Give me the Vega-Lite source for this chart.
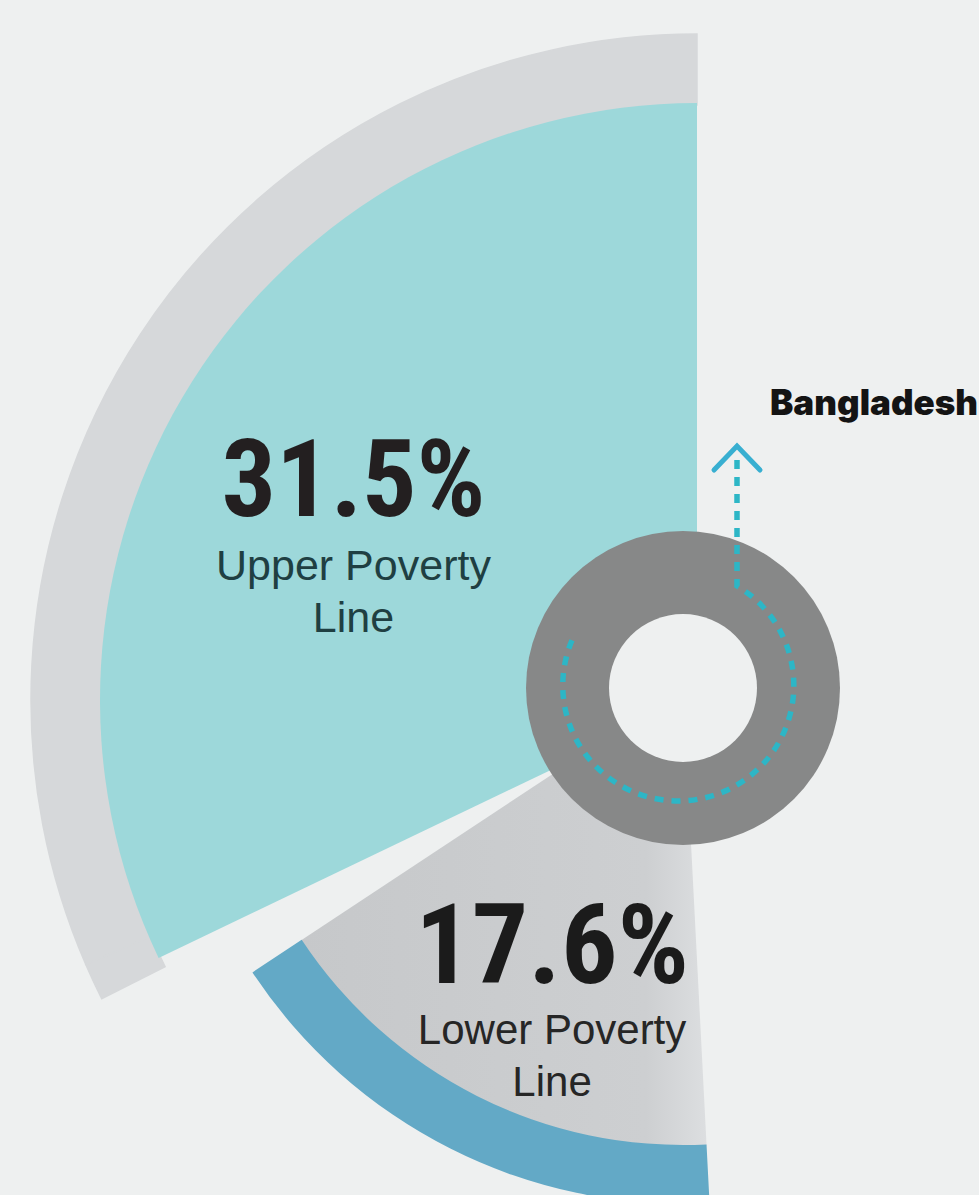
{
  "$schema": "https://vega.github.io/schema/vega-lite/v6.json",
  "width": 564,
  "height": 990,
  "autosize": "none",
  "padding": {"left": 415, "top": 205, "right": 0, "bottom": 0},
  "background": "#eef0f0",
  "config": {"view": {"stroke": null}},
  "datasets": {
    "poverty": [
      {"segment": "start", "value": 0.5, "idx": 1, "label": ""},
      {"segment": "Lower Poverty Line", "value": 0.176, "idx": 2, "label": "Lower Poverty\nLine"},
      {"segment": "gap", "value": 0.009, "idx": 3, "label": ""},
      {"segment": "Upper Poverty Line", "value": 0.315, "idx": 4, "label": "Upper Poverty\nLine"}
    ],
    "country": [{"name": "Bangladesh"}]
  },
  "data": {"name": "poverty"},
  "resolve": {"scale": {"theta": "independent"}},
  "layer": [
    {
      "mark": {"type": "arc", "outerRadius": 666, "innerRadius": 595, "strokeWidth": 1.5},
      "encoding": {
        "theta": {"field": "value", "type": "quantitative", "stack": true, "scale": {"domain": [0, 1]}},
        "order": {"field": "idx", "type": "quantitative"},
        "detail": {"field": "segment", "type": "nominal"},
        "fill": {"condition": {"test": "datum.segment === 'Upper Poverty Line' || datum.segment === 'gap'", "value": "#d6d8da"}, "value": "transparent"},
        "stroke": {"condition": {"test": "datum.segment === 'Upper Poverty Line' || datum.segment === 'gap'", "value": "#d6d8da"}, "value": "transparent"}
      }
    },
    {
      "mark": {"type": "arc", "outerRadius": 597, "innerRadius": 0},
      "encoding": {
        "theta": {"field": "value", "type": "quantitative", "stack": true, "scale": {"domain": [0, 1], "range": [-0.1222, 6.2832]}},
        "order": {"field": "idx", "type": "quantitative"},
        "detail": {"field": "segment", "type": "nominal"},
        "fill": {"condition": {"test": "datum.segment === 'Upper Poverty Line'", "value": "#9dd8da"}, "value": "transparent"}
      }
    },
    {
      "mark": {"type": "arc", "outerRadius": 458, "innerRadius": 0, "xOffset": -14, "yOffset": -12},
      "encoding": {
        "theta": {"field": "value", "type": "quantitative", "stack": true, "scale": {"domain": [0, 1], "range": [0.1396, 6.0406]}},
        "order": {"field": "idx", "type": "quantitative"},
        "detail": {"field": "segment", "type": "nominal"},
        "fill": {"condition": {"test": "datum.segment === 'Lower Poverty Line'", "value": {"gradient": "linear", "x1": 0, "y1": 0.5, "x2": 1, "y2": 0.5, "stops": [{"offset": 0, "color": "#c6c8ca"}, {"offset": 0.85, "color": "#cdcfd1"}, {"offset": 1, "color": "#dcdee0"}]}}, "value": "transparent"}
      }
    },
    {
      "mark": {"type": "arc", "outerRadius": 516, "innerRadius": 457, "xOffset": -14, "yOffset": -12},
      "encoding": {
        "theta": {"field": "value", "type": "quantitative", "stack": true, "scale": {"domain": [0, 1], "range": [0.1396, 6.0406]}},
        "order": {"field": "idx", "type": "quantitative"},
        "detail": {"field": "segment", "type": "nominal"},
        "fill": {"condition": {"test": "datum.segment === 'Lower Poverty Line'", "value": "#63a9c6"}, "value": "transparent"}
      }
    },
    {
      "data": {"name": "country"},
      "mark": {"type": "arc", "theta": 0, "theta2": 6.2832, "outerRadius": 157, "innerRadius": 0, "fill": "#878888", "xOffset": -14, "yOffset": -12},
      "encoding": {}
    },
    {
      "data": {"name": "country"},
      "mark": {"type": "arc", "theta": 0, "theta2": 6.2832, "outerRadius": 74, "innerRadius": 0, "fill": "#eef0f0", "xOffset": -14, "yOffset": -12},
      "encoding": {}
    },
    {
      "data": {"name": "country"},
      "mark": {"type": "point", "shape": "M54,-228L54,-102A115.5,115.5,0,1,1,-110,-50", "size": 4, "filled": false, "stroke": "#2db6c6", "strokeWidth": 5.5, "strokeDash": [9, 8], "opacity": 1, "xOffset": -14, "yOffset": -12},
      "encoding": {}
    },
    {
      "data": {"name": "country"},
      "mark": {"type": "point", "shape": "M31,-218L54,-242L77,-218", "size": 4, "filled": false, "stroke": "#38afd1", "strokeWidth": 5, "strokeCap": "round", "opacity": 1, "xOffset": -14, "yOffset": -12},
      "encoding": {}
    },
    {
      "data": {"name": "country"},
      "mark": {"type": "text", "font": "Inter", "fontWeight": 900, "fontSize": 35, "fill": "#141414", "align": "center", "baseline": "alphabetic", "xOffset": 177, "yOffset": -285},
      "encoding": {"text": {"field": "name", "type": "nominal"}}
    },
    {
      "mark": {"type": "text", "radius": 411, "dy": 42, "font": "Roboto Condensed, DejaVu Sans Condensed, Liberation Sans Narrow, sans-serif", "fontWeight": "bold", "fontSize": 108, "fill": "#231f20", "align": "center", "baseline": "alphabetic"},
      "encoding": {
        "theta": {"field": "value", "type": "quantitative", "stack": true, "scale": {"domain": [0, 1]}},
        "order": {"field": "idx", "type": "quantitative"},
        "detail": {"field": "segment", "type": "nominal"},
        "text": {"condition": {"test": "datum.segment === 'Upper Poverty Line'", "field": "value", "type": "quantitative", "format": ".1%"}, "value": ""}
      }
    },
    {
      "mark": {"type": "text", "radius": 276, "dy": 48, "font": "Roboto Condensed, DejaVu Sans Condensed, Liberation Sans Narrow, sans-serif", "fontWeight": "bold", "fontSize": 112, "fill": "#1b1b1b", "align": "center", "baseline": "alphabetic"},
      "encoding": {
        "theta": {"field": "value", "type": "quantitative", "stack": true, "scale": {"domain": [0, 1]}},
        "order": {"field": "idx", "type": "quantitative"},
        "detail": {"field": "segment", "type": "nominal"},
        "text": {"condition": {"test": "datum.segment === 'Lower Poverty Line'", "field": "value", "type": "quantitative", "format": ".1%"}, "value": ""}
      }
    },
    {
      "mark": {"type": "text", "radius": 411, "dy": 106, "font": "Liberation Sans, Arial, sans-serif", "fontSize": 43, "fill": "#1f3f42", "align": "center", "baseline": "alphabetic", "lineBreak": "\n", "lineHeight": 52},
      "encoding": {
        "theta": {"field": "value", "type": "quantitative", "stack": true, "scale": {"domain": [0, 1]}},
        "order": {"field": "idx", "type": "quantitative"},
        "detail": {"field": "segment", "type": "nominal"},
        "text": {"condition": {"test": "datum.segment === 'Upper Poverty Line'", "field": "label", "type": "nominal"}, "value": ""}
      }
    },
    {
      "mark": {"type": "text", "radius": 276, "dy": 109, "font": "Liberation Sans, Arial, sans-serif", "fontSize": 42, "fill": "#262626", "align": "center", "baseline": "alphabetic", "lineBreak": "\n", "lineHeight": 52},
      "encoding": {
        "theta": {"field": "value", "type": "quantitative", "stack": true, "scale": {"domain": [0, 1]}},
        "order": {"field": "idx", "type": "quantitative"},
        "detail": {"field": "segment", "type": "nominal"},
        "text": {"condition": {"test": "datum.segment === 'Lower Poverty Line'", "field": "label", "type": "nominal"}, "value": ""}
      }
    }
  ]
}
